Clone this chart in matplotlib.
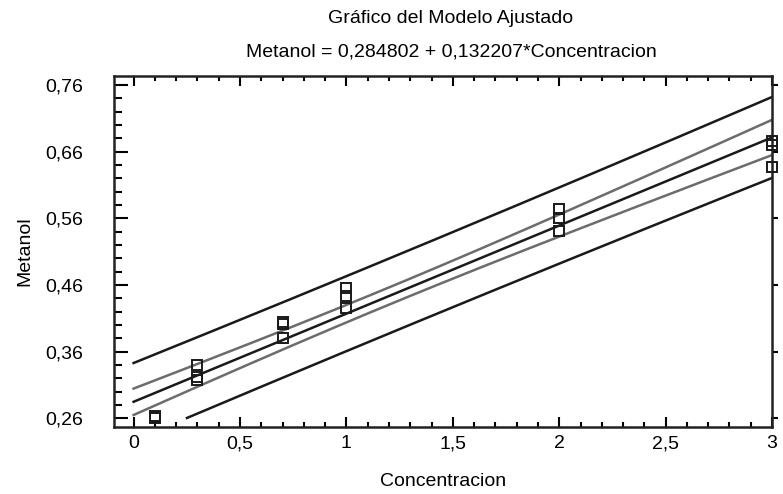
import numpy as np
import matplotlib
matplotlib.use("Agg")
import matplotlib.pyplot as plt
from matplotlib.ticker import FixedLocator, MultipleLocator, FuncFormatter

plt.rcParams['font.family'] = ['Liberation Sans Narrow', 'Liberation Sans', 'DejaVu Sans']

# data
concentracion = [0.1, 0.1, 0.1, 0.3, 0.3, 0.3, 0.7, 0.7, 0.7,
                 1.0, 1.0, 1.0, 2.0, 2.0, 2.0, 3.0, 3.0, 3.0]
metanol = [0.262, 0.261, 0.263, 0.3395, 0.3215, 0.3175, 0.404, 0.401, 0.381,
           0.455, 0.444, 0.425, 0.574, 0.561, 0.541, 0.676, 0.670, 0.637]

b0 = 0.284802
b1 = 0.132207
t_975 = 2.12  # t(0.975, 16 gl)

y_ticks = [0.26, 0.36, 0.46, 0.56, 0.66, 0.76]
x_ticks = [0, 0.5, 1, 1.5, 2, 2.5, 3]

x = np.array(concentracion)
y = np.array(metanol)
n = len(x)
resid = y - (b0 + b1 * x)
s = np.sqrt(np.sum(resid ** 2) / (n - 2))
sxx = np.sum((x - x.mean()) ** 2)

xs = np.linspace(0, 3, 300)
fit = b0 + b1 * xs
h = 1.0 / n + (xs - x.mean()) ** 2 / sxx
ci = t_975 * s * np.sqrt(h)
pi = t_975 * s * np.sqrt(1 + h)

ymin = y_ticks[0]
pred_lo = np.where(fit - pi < ymin, np.nan, fit - pi)

fig = plt.figure(figsize=(7.83, 4.94), dpi=100)
ax = fig.add_axes([0.1456, 0.1362, 0.8404, 0.7098])

black = '#1a1a1a'
gray = '#6c6c6c'
ax.plot(xs, fit + pi, color=black, lw=1.8)
ax.plot(xs, pred_lo, color=black, lw=1.8)
ax.plot(xs, fit + ci, color=gray, lw=1.8)
ax.plot(xs, fit - ci, color=gray, lw=1.8)
ax.plot(xs, fit, color=black, lw=1.8)
ax.plot(x, y, 's', ms=6.5, mfc='none', mec=black, mew=1.4, clip_on=False, zorder=5)

ax.set_xlim(-0.092, 3.0)
ax.set_ylim(0.2474, 0.7735)

comma = FuncFormatter(lambda v, p: ('%g' % round(v, 2)).replace('.', ','))
ax.xaxis.set_major_locator(FixedLocator(x_ticks))
ax.xaxis.set_minor_locator(MultipleLocator(0.1))
ax.yaxis.set_major_locator(FixedLocator(y_ticks))
ax.yaxis.set_minor_locator(FixedLocator(np.arange(0.26, 0.77, 0.02)))
ax.xaxis.set_major_formatter(comma)
ax.yaxis.set_major_formatter(comma)

for sp in ax.spines.values():
    sp.set_linewidth(1.8)
    sp.set_color('#222222')

ax.tick_params(axis='y', which='major', direction='in', length=10, width=1.5,
               left=True, right=False, labelsize=14, pad=22)
ax.tick_params(axis='y', which='minor', direction='in', length=5.5, width=1.5,
               left=True, right=False)
ax.tick_params(axis='x', which='major', direction='in', length=7, width=1.5,
               top=True, bottom=True, labelsize=14, pad=6)
ax.tick_params(axis='x', which='minor', direction='in', length=3.5, width=1.5,
               top=True, bottom=True)

# outward ticks on the right spine
sec = ax.secondary_yaxis('right')
sec.yaxis.set_major_locator(FixedLocator(y_ticks))
sec.tick_params(direction='out', length=4, width=1.5, labelright=False)
sec.spines['right'].set_visible(False)

ax.set_xlabel('Concentracion', fontsize=14, labelpad=15)
ax.set_ylabel('Metanol', fontsize=14, labelpad=9)

fig.text(0.576, 0.962, 'Gráfico del Modelo Ajustado', ha='center', va='center', fontsize=14)
fig.text(0.577, 0.894, 'Metanol = 0,284802 + 0,132207*Concentracion', ha='center',
         va='center', fontsize=14)

fig.savefig('out.png', dpi=100)
